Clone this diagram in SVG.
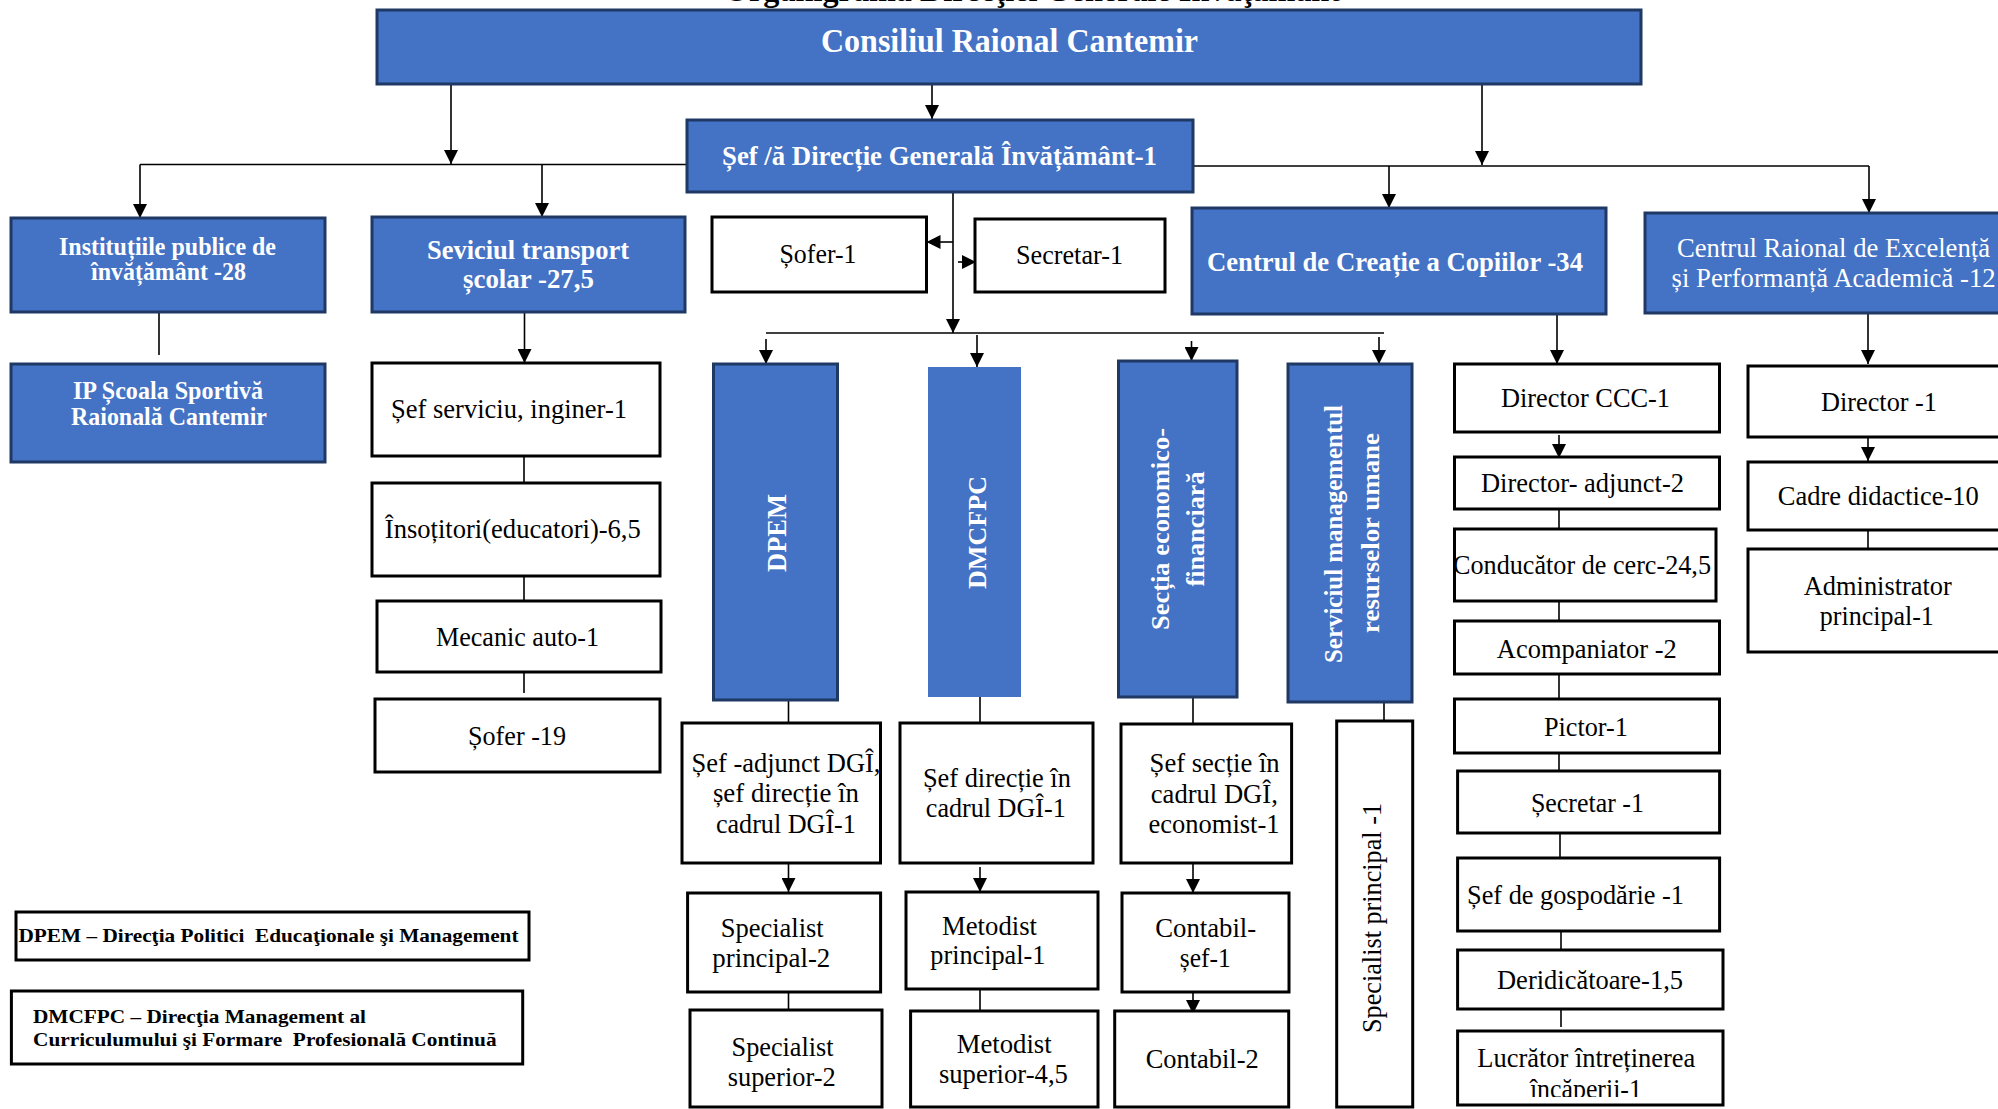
<svg xmlns="http://www.w3.org/2000/svg" width="1998" height="1109" viewBox="0 0 1998 1109">
<style>
.bl{fill:#4472C4;stroke:#1F3864;stroke-width:3}
.bn{fill:#4472C4;stroke:none}
.wb{fill:#fff;stroke:#000;stroke-width:3}
.lg{fill:#fff;stroke:#000;stroke-width:3}
text{font-family:"Liberation Serif","Times New Roman",serif;text-anchor:middle}
.tw{fill:#fff;font-weight:bold}
.tr{fill:#fff;font-weight:normal}
.tk{fill:#000;font-size:27px}
.tl{fill:#000;font-weight:bold;font-size:19px;text-anchor:start}
.ln{fill:none;stroke:#000;stroke-width:1.6}
.ar{fill:none;stroke:#000;stroke-width:1.6;marker-end:url(#ah)}
</style>
<defs>
<marker id="ah" viewBox="0 0 14 14" refX="14" refY="7" markerWidth="14" markerHeight="14" markerUnits="userSpaceOnUse" orient="auto"><path d="M0,0 L14,7 L0,14 z" fill="#000"/></marker>
<clipPath id="cpCond"><rect x="1456" y="530" width="259" height="70"/></clipPath>
<clipPath id="cpLuc"><rect x="1459" y="1032" width="262" height="65"/></clipPath>
<clipPath id="cpAdj"><rect x="683" y="724" width="196" height="138"/></clipPath>
</defs>
<rect width="1998" height="1109" fill="#fff"/>

<text x="1032" y="1" font-size="32" font-weight="bold" textLength="616" lengthAdjust="spacingAndGlyphs">Organigrama Direcţiei Generale Învăţământ</text>

<g id="connectors">
<path class="ar" d="M451,84 V164"/>
<path class="ln" d="M140,164.5 H687"/>
<path class="ar" d="M140,164.5 V218"/>
<path class="ar" d="M542,164.5 V217"/>
<path class="ar" d="M932,84 V119"/>
<path class="ar" d="M1482,84 V165"/>
<path class="ln" d="M1193,166 H1869"/>
<path class="ar" d="M1389,166 V208"/>
<path class="ar" d="M1869,166 V213"/>
<path class="ar" d="M953,193 V333"/>
<path class="ar" d="M953,242 H926.5"/>
<path class="ar" d="M958,262 H976"/>
<path class="ln" d="M766,333 H1384"/>
<path class="ar" d="M766,339 V364"/>
<path class="ar" d="M977,335 V367"/>
<path class="ar" d="M1191.5,341 V361"/>
<path class="ar" d="M1379,337 V364"/>
<path class="ln" d="M159,312 V355"/>
<path class="ar" d="M524.5,312 V363"/>
<path class="ln" d="M524,456 V483"/>
<path class="ln" d="M524,576 V600"/>
<path class="ln" d="M524,672 V693"/>
<path class="ln" d="M788.5,700 V723"/>
<path class="ar" d="M788.5,863 V892"/>
<path class="ln" d="M788.5,992 V1010"/>
<path class="ln" d="M980,697 V723"/>
<path class="ar" d="M980,867 V892"/>
<path class="ln" d="M980,989 V1011"/>
<path class="ln" d="M1193,697 V724"/>
<path class="ar" d="M1193,863 V893"/>
<path class="ar" d="M1193,989 V1014"/>
<path class="ln" d="M1384,695 V721"/>
<path class="ar" d="M1557,314 V364"/>
<path class="ar" d="M1559,435 V458"/>
<path class="ln" d="M1559,509 V529"/>
<path class="ln" d="M1559,601 V621"/>
<path class="ln" d="M1559,674 V699"/>
<path class="ln" d="M1559,753 V771"/>
<path class="ln" d="M1560,833 V858"/>
<path class="ln" d="M1561,931 V950"/>
<path class="ln" d="M1561,1009 V1027"/>
<path class="ar" d="M1868,313 V364"/>
<path class="ar" d="M1868,437 V461"/>
<path class="ln" d="M1868,530 V549"/>
</g>

<g id="consiliul"><rect class="bl" x="377" y="10" width="1264" height="74"/><text class="tw" x="1009.5" y="52" font-size="33" textLength="377" lengthAdjust="spacingAndGlyphs">Consiliul Raional Cantemir</text></g>
<g id="sef-dgi"><rect class="bl" x="687" y="120" width="506" height="72"/><text class="tw" x="939.5" y="165" font-size="28" textLength="435" lengthAdjust="spacingAndGlyphs">Șef /ă Direcție Generală Învățământ-1</text></g>
<g id="institutii"><rect class="bl" x="11" y="218" width="314" height="94"/><text class="tw" x="167.5" y="255" font-size="25" textLength="217" lengthAdjust="spacingAndGlyphs">Instituțiile publice de</text><text class="tw" x="168.5" y="280" font-size="25" textLength="155" lengthAdjust="spacingAndGlyphs">învățământ -28</text></g>
<g id="ip-scoala"><rect class="bl" x="11" y="364" width="314" height="98"/><text class="tw" x="168" y="399" font-size="25" textLength="190" lengthAdjust="spacingAndGlyphs">IP Școala Sportivă</text><text class="tw" x="169" y="425" font-size="25" textLength="196" lengthAdjust="spacingAndGlyphs">Raională Cantemir</text></g>
<g id="transport"><rect class="bl" x="372" y="217" width="313" height="95"/><text class="tw" x="528" y="259" font-size="27" textLength="202" lengthAdjust="spacingAndGlyphs">Seviciul transport</text><text class="tw" x="528.5" y="288" font-size="27" textLength="131" lengthAdjust="spacingAndGlyphs">școlar -27,5</text></g>
<g id="sofer1"><rect class="wb" x="712" y="217" width="214.5" height="75"/><text class="tk" x="818" y="263" textLength="77" lengthAdjust="spacingAndGlyphs">Șofer-1</text></g>
<g id="secretar1"><rect class="wb" x="975" y="219" width="190" height="73"/><text class="tk" x="1069.5" y="264" textLength="107" lengthAdjust="spacingAndGlyphs">Secretar-1</text></g>
<g id="ccc"><rect class="bl" x="1192" y="208" width="414" height="106"/><text class="tw" x="1395" y="271" font-size="28" textLength="376" lengthAdjust="spacingAndGlyphs">Centrul de Creație a Copiilor -34</text></g>
<g id="crepa"><rect class="bl" x="1645" y="213" width="380" height="100"/><text class="tr" x="1833.5" y="257" font-size="27" textLength="313" lengthAdjust="spacingAndGlyphs">Centrul Raional de Excelență</text><text class="tr" x="1833.6" y="287" font-size="27" textLength="324" lengthAdjust="spacingAndGlyphs">și Performanță Academică -12</text></g>

<g id="sef-serviciu"><rect class="wb" x="372" y="363" width="288" height="93"/><text class="tk" x="509" y="418" textLength="236" lengthAdjust="spacingAndGlyphs">Șef serviciu, inginer-1</text></g>
<g id="insotitori"><rect class="wb" x="372" y="483" width="288" height="93"/><text class="tk" x="512.8" y="538" textLength="256" lengthAdjust="spacingAndGlyphs">Însoțitori(educatori)-6,5</text></g>
<g id="mecanic"><rect class="wb" x="377" y="601" width="284" height="71"/><text class="tk" x="517.5" y="646" textLength="163" lengthAdjust="spacingAndGlyphs">Mecanic auto-1</text></g>
<g id="sofer19"><rect class="wb" x="375" y="699" width="285" height="73"/><text class="tk" x="517" y="745" textLength="98" lengthAdjust="spacingAndGlyphs">Șofer -19</text></g>

<g id="dpem"><rect class="bl" x="713.5" y="364" width="124" height="336"/><text class="tw" transform="translate(786,533) rotate(-90)" x="0" y="0" font-size="27" textLength="78" lengthAdjust="spacingAndGlyphs">DPEM</text></g>
<g id="dmcfpc"><rect class="bn" x="928" y="367" width="93" height="330"/><text class="tw" transform="translate(986,532.5) rotate(-90)" x="0" y="0" font-size="26" textLength="113" lengthAdjust="spacingAndGlyphs">DMCFPC</text></g>
<g id="sectia"><rect class="bl" x="1118.5" y="361" width="118.5" height="336"/><text class="tw" transform="translate(1169,529) rotate(-90)" x="0" y="0" font-size="25" textLength="202" lengthAdjust="spacingAndGlyphs">Secția economico-</text><text class="tw" transform="translate(1204,529) rotate(-90)" x="0" y="0" font-size="25" textLength="115" lengthAdjust="spacingAndGlyphs">financiară</text></g>
<g id="smru"><rect class="bl" x="1288" y="364" width="124" height="338"/><text class="tw" transform="translate(1342,534) rotate(-90)" x="0" y="0" font-size="25" textLength="258" lengthAdjust="spacingAndGlyphs">Serviciul managementul</text><text class="tw" transform="translate(1379,533) rotate(-90)" x="0" y="0" font-size="25" textLength="200" lengthAdjust="spacingAndGlyphs">resurselor umane</text></g>

<g id="sef-adjunct"><rect class="wb" x="682" y="723" width="198.5" height="140"/><g clip-path="url(#cpAdj)"><text class="tk" x="786" y="771.7" textLength="189" lengthAdjust="spacingAndGlyphs">Șef -adjunct DGÎ,</text></g><text class="tk" x="785.9" y="801.7" textLength="146" lengthAdjust="spacingAndGlyphs">șef direcție în</text><text class="tk" x="785.9" y="832.7" textLength="140" lengthAdjust="spacingAndGlyphs">cadrul DGÎ-1</text></g>
<g id="spec-principal2"><rect class="wb" x="687.6" y="893" width="193" height="99"/><text class="tk" x="772.2" y="936.7" textLength="103" lengthAdjust="spacingAndGlyphs">Specialist</text><text class="tk" x="771.3" y="966.7" textLength="118" lengthAdjust="spacingAndGlyphs">principal-2</text></g>
<g id="spec-superior2"><rect class="wb" x="690" y="1010" width="192" height="97"/><text class="tk" x="782.6" y="1056" textLength="102" lengthAdjust="spacingAndGlyphs">Specialist</text><text class="tk" x="781.7" y="1086" textLength="108" lengthAdjust="spacingAndGlyphs">superior-2</text></g>
<g id="sef-directie"><rect class="wb" x="900" y="723" width="193" height="140"/><text class="tk" x="996.9" y="787" textLength="148" lengthAdjust="spacingAndGlyphs">Șef direcție în</text><text class="tk" x="995.8" y="817" textLength="140" lengthAdjust="spacingAndGlyphs">cadrul DGÎ-1</text></g>
<g id="metodist-principal"><rect class="wb" x="906" y="892" width="192" height="97"/><text class="tk" x="989.5" y="935" textLength="95" lengthAdjust="spacingAndGlyphs">Metodist</text><text class="tk" x="987.8" y="964" textLength="115" lengthAdjust="spacingAndGlyphs">principal-1</text></g>
<g id="metodist-superior"><rect class="wb" x="910.6" y="1011" width="187.4" height="96"/><text class="tk" x="1004.2" y="1053" textLength="95" lengthAdjust="spacingAndGlyphs">Metodist</text><text class="tk" x="1003.4" y="1083" textLength="129" lengthAdjust="spacingAndGlyphs">superior-4,5</text></g>
<g id="sef-sectie"><rect class="wb" x="1121" y="724" width="170.6" height="139"/><text class="tk" x="1214.6" y="771.7" textLength="130" lengthAdjust="spacingAndGlyphs">Șef secție în</text><text class="tk" x="1214.3" y="802.7" textLength="127" lengthAdjust="spacingAndGlyphs">cadrul DGÎ,</text><text class="tk" x="1214" y="832.7" textLength="131" lengthAdjust="spacingAndGlyphs">economist-1</text></g>
<g id="contabil-sef"><rect class="wb" x="1122" y="893" width="167" height="99"/><text class="tk" x="1205.7" y="936.7" textLength="101" lengthAdjust="spacingAndGlyphs">Contabil-</text><text class="tk" x="1205.3" y="966.7" textLength="51" lengthAdjust="spacingAndGlyphs">șef-1</text></g>
<g id="contabil2"><rect class="wb" x="1114.7" y="1011" width="174" height="96"/><text class="tk" x="1202.2" y="1067.7" textLength="113" lengthAdjust="spacingAndGlyphs">Contabil-2</text></g>
<g id="spec-principal1"><rect class="wb" x="1336.7" y="721" width="76" height="386"/><text class="tk" transform="translate(1381,918) rotate(-90)" x="0" y="0" font-size="25" textLength="230" lengthAdjust="spacingAndGlyphs">Specialist principal -1</text></g>

<g id="director-ccc"><rect class="wb" x="1454.5" y="364" width="265" height="68"/><text class="tk" x="1585.5" y="407" textLength="169" lengthAdjust="spacingAndGlyphs">Director CCC-1</text></g>
<g id="director-adjunct"><rect class="wb" x="1454.5" y="457" width="265" height="52"/><text class="tk" x="1582.5" y="492" textLength="203" lengthAdjust="spacingAndGlyphs">Director- adjunct-2</text></g>
<g id="conducator"><rect class="wb" x="1454.5" y="529" width="261.5" height="72"/><g clip-path="url(#cpCond)"><text class="tk" x="1582" y="574" textLength="258" lengthAdjust="spacingAndGlyphs">Conducător de cerc-24,5</text></g></g>
<g id="acompaniator"><rect class="wb" x="1454.5" y="621" width="265" height="53"/><text class="tk" x="1586.8" y="658" textLength="180" lengthAdjust="spacingAndGlyphs">Acompaniator -2</text></g>
<g id="pictor"><rect class="wb" x="1454.5" y="699" width="265" height="54"/><text class="tk" x="1585.9" y="736" textLength="84" lengthAdjust="spacingAndGlyphs">Pictor-1</text></g>
<g id="secretar-ccc"><rect class="wb" x="1457.6" y="771" width="262" height="62"/><text class="tk" x="1587.4" y="811.7" textLength="113" lengthAdjust="spacingAndGlyphs">Șecretar -1</text></g>
<g id="sef-gospodarie"><rect class="wb" x="1457.6" y="858" width="262" height="73"/><text class="tk" x="1575.5" y="904" textLength="217" lengthAdjust="spacingAndGlyphs">Șef de gospodărie -1</text></g>
<g id="deridicatoare"><rect class="wb" x="1457.6" y="950" width="265.4" height="59"/><text class="tk" x="1590" y="989" textLength="186" lengthAdjust="spacingAndGlyphs">Deridicătoare-1,5</text></g>
<g id="lucrator"><rect class="wb" x="1457.6" y="1031" width="265.4" height="74"/><g clip-path="url(#cpLuc)"><text class="tk" x="1586.3" y="1066.7" textLength="218" lengthAdjust="spacingAndGlyphs">Lucrător întreținerea</text><text class="tk" x="1585.9" y="1098" textLength="112" lengthAdjust="spacingAndGlyphs">încăperii-1</text></g></g>

<g id="director1"><rect class="wb" x="1748" y="366" width="270" height="71"/><text class="tk" x="1879" y="410.7" textLength="116" lengthAdjust="spacingAndGlyphs">Director -1</text></g>
<g id="cadre"><rect class="wb" x="1748" y="462" width="270" height="68"/><text class="tk" x="1878.3" y="505" textLength="201" lengthAdjust="spacingAndGlyphs">Cadre didactice-10</text></g>
<g id="administrator"><rect class="wb" x="1748" y="549" width="270" height="103"/><text class="tk" x="1877.8" y="595" textLength="148" lengthAdjust="spacingAndGlyphs">Administrator</text><text class="tk" x="1876.8" y="625" textLength="114" lengthAdjust="spacingAndGlyphs">principal-1</text></g>

<g id="legend-dpem"><rect class="lg" x="16" y="912" width="513" height="48"/><text class="tl" x="18.5" y="942" xml:space="preserve" textLength="500" lengthAdjust="spacingAndGlyphs">DPEM – Direcţia Politici  Educaţionale şi Management</text></g>
<g id="legend-dmcfpc"><rect class="lg" x="11.4" y="991" width="511.3" height="73"/><text class="tl" x="33" y="1022.7" textLength="333" lengthAdjust="spacingAndGlyphs">DMCFPC – Direcţia Management al</text><text class="tl" x="33" y="1046" xml:space="preserve" textLength="463.6" lengthAdjust="spacingAndGlyphs">Curriculumului şi Formare  Profesională Continuă</text></g>
</svg>
